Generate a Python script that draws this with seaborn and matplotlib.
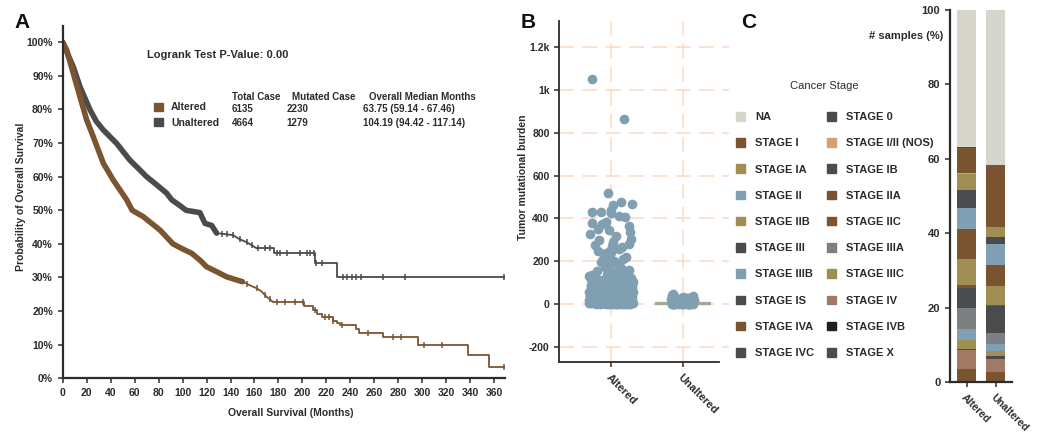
import matplotlib
matplotlib.use("Agg")
import matplotlib.pyplot as plt
import matplotlib.ticker as mticker
from matplotlib.patches import Patch
import numpy as np
import pandas as pd
import seaborn as sns

BROWN = "#7b5430"
GREY = "#4b4b4d"
DOT = "#809fb1"
TXT = "#2b2b2b"

# ---- A: Kaplan-Meier ----
# smooth early part (dense censoring), then the stepped tail
alt_smooth_t = [0, 3.3, 8.8, 14.4, 20, 25.5, 33.9, 42.2, 53.4, 58, 67.2, 81.2, 92,
                100, 107.6, 115, 120, 128, 136.8, 143, 150, 156, 161.8, 166, 170, 176]
alt_smooth_s = [1.0, .977, .908, .838, .769, .719, .64, .59, .531, .50, .481, .441, .40,
                .385, .372, .35, .332, .318, .302, .295, .2875, .277, .268, .258, .243, .226]
alt_step_t = [176, 201, 209, 212, 216, 225.5, 228.5, 231, 244.6, 247.4, 267.4, 296.6,
              338.5, 355.8, 369]
alt_step_s = [.226, .215, .203, .190, .181, .170, .164, .160, .147, .136, .122, .100,
              .068, .034, .034]
alt_cens_t = [153.5, 161.8, 168.7, 172.9, 178.5, 185.4, 193.7, 200.7, 210.4, 218.8,
              222, 225.7, 232.7, 254.9, 275.2, 282.2, 301.3, 316.1, 368]

unalt_smooth_t = [0, 3, 8.8, 14.4, 22.8, 28, 33.9, 45, 56.1, 63, 70, 78, 86.7, 91, 97,
                  103, 114.5, 118.7, 124.3, 128.4, 142.3, 147, 153.5, 161.8]
unalt_smooth_s = [1.0, .975, .927, .868, .799, .765, .739, .699, .649, .625, .60, .577,
                  .551, .531, .516, .50, .493, .461, .455, .432, .426, .415, .405, .387]
unalt_step_t = [161.8, 176, 210.5, 229, 369]
unalt_step_s = [.387, .372, .342, .302, .302]
unalt_cens_t = [132.6, 136.8, 142.3, 147.9, 153.5, 157.7, 163.2, 168.8, 172.9, 178.5,
                181.3, 186.8, 198, 203.5, 206.3, 210, 211.5, 216, 233.9, 237.5, 241.7,
                245, 248.6, 267.2, 285.3, 368]

# ---- B: tumor mutational burden ----
tmb_altered = [
    1050, 862, 520, 478, 466, 463, 440, 432, 428, 425, 412, 408, 385, 380, 372, 365,
    352, 345, 338, 325, 318, 305, 298, 290, 282, 278, 272, 265, 258, 250, 246, 242,
    238, 232, 225, 218, 212, 208, 202, 196, 190, 186, 180, 175, 170, 166, 162, 158,
    154, 150, 147, 144, 141, 138, 135, 132, 130, 128, 125, 122,
    120, 118, 116, 114, 112, 110, 108, 106, 104, 102, 100, 98, 96, 95, 94, 92, 90, 88,
    87, 86, 85, 84, 82, 80, 79, 78, 77, 76, 75, 74, 73, 72, 71, 70, 69, 68, 67, 66,
    65, 64, 63, 62, 61, 60, 59, 58, 57, 56, 55, 54, 53, 52, 51, 50, 49, 48, 47, 46,
    45, 44, 43, 42, 41, 40, 39, 38, 37, 36, 35, 34, 33, 32, 31, 30, 29, 28, 27, 26,
    25, 24, 23, 22, 21, 20, 19, 18, 17, 16, 15, 14, 13, 12, 11, 10, 9, 8, 7, 6,
    5, 4, 3, 2, 1, 0, 60, 55, 50, 45, 40, 35, 30, 25, 20, 15, 12, 10, 8, 6, 4, 2,
    90, 80, 70, 65, 58, 52, 48, 42, 38, 33, 28, 24, 18, 14, 9, 5, 3, 1, 0, 0,
    140, 136, 127, 119, 111, 105, 99, 93, 89, 83, 81, 76, 71, 68, 63, 57,
    53, 49, 44, 39, 34, 29, 26, 22, 19, 16, 13, 11, 7, 4, 2, 0, 126, 115, 103, 97,
    91, 86, 78, 72, 66, 61, 56, 51, 46, 41, 36, 31, 27, 23, 17, 12, 8, 6, 3, 1,
    145, 133, 121, 109, 101, 94, 88, 82, 74, 69, 62, 54, 47, 43, 37, 32, 26, 21, 15,
    10, 5, 2, 0, 0, 117, 107, 97, 85, 75, 64, 55, 45, 35, 25, 15, 5,
]
tmb_unaltered = [45, 40, 38, 35, 33, 30, 28, 27, 25, 24, 22, 20, 19, 18, 17, 16, 15,
                 14, 13, 12, 11, 10, 10, 9, 8, 8, 7, 7, 6, 6, 5, 5, 5, 4, 4, 4, 3, 3,
                 3, 2, 2, 2, 2, 1, 1, 1, 1, 0, 0, 0, 30, 26, 21, 18, 14, 11, 9, 7, 5,
                 3, 2, 1, 0, 0]
# box lines (Q1, median, Q3)
tmb_quart_altered = [0, 3, 14]
tmb_quart_unaltered = [0, 1, 3]

# ---- C: cancer stage composition (%) ----
groups = ["Altered", "Unaltered"]
stages = ["NA", "STAGE 0", "STAGE I", "STAGE I/II (NOS)", "STAGE IA", "STAGE IB",
          "STAGE II", "STAGE IIA", "STAGE IIB", "STAGE IIC", "STAGE III", "STAGE IIIA",
          "STAGE IIIB", "STAGE IIIC", "STAGE IS", "STAGE IV", "STAGE IVA", "STAGE IVB",
          "STAGE IVC", "STAGE X"]
stage_colors = ["#d6d6cc", "#4a4b4d", "#7a5430", "#d4a076", "#a08f52", "#4a4b4d",
                "#819fb2", "#7a5430", "#a08f52", "#7a5430", "#4a4b4d", "#7e7f82",
                "#819fb2", "#a08f52", "#4a4b4d", "#a07a64", "#7a5430", "#231f20",
                "#4a4b4d", "#4a4b4d"]
pct_altered = [36.7, 0.3, 6.7, 0.4, 4.3, 4.8, 5.6, 8.1, 7.0, 0.7, 5.4, 5.7, 2.9, 2.5,
               0.2, 5.1, 3.3, 0.1, 0.1, 0.1]
pct_unaltered = [41.5, 0.0, 16.7, 0.0, 2.7, 1.9, 5.7, 5.6, 5.1, 0.3, 7.25, 2.95, 1.9,
                 1.35, 0.8, 3.5, 2.65, 0.0, 0.05, 0.05]

sns.set_theme(style="ticks")
plt.rcParams["font.family"] = ["Liberation Sans", "DejaVu Sans"]
plt.rcParams["font.weight"] = "bold"
plt.rcParams["axes.labelweight"] = "bold"

W, H = 1039, 432
fig = plt.figure(figsize=(W / 100, H / 100), dpi=100)


def fx(px):
    return px / W


def fy(py):
    return 1 - py / H


def style_spines(ax, lw):
    sns.despine(ax=ax)
    for s in ("left", "bottom"):
        ax.spines[s].set_linewidth(lw)
        ax.spines[s].set_color(TXT)
    ax.tick_params(colors=TXT, width=1.1, length=3.5, labelsize=7.5)


# ---------------- A ----------------
axA = fig.add_axes([fx(62.7), fy(378.3), fx(505 - 62.7), (378.3 - 26) / H])


def surv_at(t, sm_t, sm_s, st_t, st_s):
    t = np.asarray(t, float)
    smooth = np.interp(t, sm_t, sm_s)
    idx = np.clip(np.searchsorted(st_t, t, side="right") - 1, 0, None)
    return np.where(t < st_t[0], smooth, np.asarray(st_s)[idx])


def km(ax, sm_t, sm_s, st_t, st_s, cens, color, thick_until):
    sm_t = np.asarray(sm_t)
    sm_s = np.asarray(sm_s)
    sns.lineplot(x=sm_t, y=sm_s, ax=ax, color=color, lw=1.3, estimator=None, sort=False)
    m = sm_t <= thick_until
    sns.lineplot(x=sm_t[m], y=sm_s[m], ax=ax, color=color, lw=4.0, estimator=None,
                 sort=False, solid_capstyle="round")
    sns.lineplot(x=st_t, y=st_s, ax=ax, color=color, lw=1.3, estimator=None,
                 sort=False, drawstyle="steps-post")
    ax.plot(cens, surv_at(cens, sm_t, sm_s, st_t, st_s), ls="none", marker="|",
            ms=5, mew=1.1, color=color)


km(axA, unalt_smooth_t, unalt_smooth_s, unalt_step_t, unalt_step_s, unalt_cens_t, GREY, 130)
km(axA, alt_smooth_t, alt_smooth_s, alt_step_t, alt_step_s, alt_cens_t, BROWN, 150)
axA.set_xlim(0, 369)
axA.set_ylim(0, 1.0485)
axA.set_xticks(np.arange(0, 361, 20))
axA.set_yticks(np.arange(0, 1.01, 0.1))
axA.yaxis.set_major_formatter(mticker.PercentFormatter(xmax=1, decimals=0))
style_spines(axA, 1.6)
axA.set_xlabel("Overall Survival (Months)", fontsize=7.5, color=TXT)
axA.set_ylabel("Probability of Overall Survival", fontsize=7.5, color=TXT)
axA.xaxis.set_label_coords(0.516, -0.083)
axA.yaxis.set_label_coords(-0.083, 0.515)

fig.text(fx(14), fy(22), "A", fontsize=15, fontweight="bold", va="center", color="#111")
fig.text(fx(146.7), fy(55), "Logrank Test P-Value: 0.00", fontsize=8, va="center", color=TXT)
hdr_y, r1_y, r2_y = 96.7, 109.3, 122.7
for x, s in zip([231.7, 291.7, 369.3], ["Total Case", "Mutated Case", "Overall Median Months"]):
    fig.text(fx(x), fy(hdr_y), s, fontsize=7, va="center", color=TXT)
rows = [["6135", "2230", "63.75 (59.14 - 67.46)"],
        ["4664", "1279", "104.19 (94.42 - 117.14)"]]
for y, row in zip([r1_y, r2_y], rows):
    for x, s in zip([231.7, 286.7, 362.7], row):
        fig.text(fx(x), fy(y), s, fontsize=7, va="center", color=TXT)
legA = fig.legend(handles=[Patch(color=BROWN, label="Altered"),
                           Patch(color=GREY, label="Unaltered")],
                  loc="upper left", bbox_to_anchor=(fx(154), fy(102.5)), frameon=False,
                  fontsize=7.5, handlelength=0.85, handleheight=0.9, handletextpad=0.8,
                  labelspacing=0.5, borderpad=0, borderaxespad=0)
for t in legA.get_texts():
    t.set_color(TXT)

# ---------------- B ----------------
axB = fig.add_axes([fx(559.3), fy(362.3), fx(729 - 559.3), (362.3 - 20.7) / H])
df_alt = pd.DataFrame({"group": "Altered", "tmb": tmb_altered})
df_un = pd.DataFrame({"group": "Unaltered", "tmb": tmb_unaltered})
np.random.seed(7)
for i, q in enumerate([tmb_quart_altered, tmb_quart_unaltered]):
    hw = 0.36 if i == 0 else 0.39
    axB.hlines(q, i - hw, i + hw, color="#a7a894", lw=1.6, zorder=2)
sns.stripplot(data=df_alt, x="group", y="tmb", order=groups, jitter=0.31, size=7,
              color=DOT, linewidth=0, ax=axB, zorder=3)
sns.stripplot(data=df_un, x="group", y="tmb", order=groups, jitter=0.16, size=7,
              color=DOT, linewidth=0, ax=axB, zorder=3)
axB.set_xlim(-0.725, 1.646)
axB.set_ylim(-272, 1323)
axB.set_yticks([-200, 0, 200, 400, 600, 800, 1000, 1200])
axB.set_yticklabels(["-200", "0", "200", "400", "600", "800", "1k", "1.2k"])
axB.grid(True, color="#fbdcc6", lw=1.2, linestyle=(0, (9, 5)))
axB.set_axisbelow(True)
style_spines(axB, 1.3)
axB.spines["bottom"].set_bounds(-0.725, 1.51)
axB.set_xlabel("")
axB.set_ylabel("Tumor mutational burden", fontsize=7.5, color=TXT)
axB.yaxis.set_label_coords(-0.184, 0.5425)
for lab in axB.get_xticklabels():
    lab.set_rotation(-45)
    lab.set_ha("left")
    lab.set_va("top")
    lab.set_rotation_mode("anchor")
    lab.set_fontsize(8)
fig.text(fx(520.7), fy(22), "B", fontsize=15, fontweight="bold", va="center", color="#111")

# ---------------- C ----------------
axC = fig.add_axes([fx(950), fy(382.3), fx(1011.7 - 950), (382.3 - 10) / H])
for gi, pct in enumerate([pct_altered, pct_unaltered]):
    bottom = 0.0
    for name, col, v in reversed(list(zip(stages, stage_colors, pct))):
        axC.bar(gi, v, bottom=bottom, width=0.66, color=col, lw=0)
        bottom += v
axC.set_xlim(-0.57, 1.55)
axC.set_ylim(0, 100)
axC.set_xticks([0, 1])
axC.set_xticklabels(groups)
axC.set_yticks([0, 20, 40, 60, 80, 100])
style_spines(axC, 1.6)
axC.tick_params(labelsize=8)
for lab in axC.get_xticklabels():
    lab.set_rotation(-45)
    lab.set_ha("left")
    lab.set_va("top")
    lab.set_rotation_mode("anchor")
    lab.set_fontsize(7.5)
fig.text(fx(943), fy(36), "# samples (%)", fontsize=8, ha="right", va="center", color=TXT)
fig.text(fx(740.7), fy(22), "C", fontsize=15, fontweight="bold", va="center", color="#111")
fig.text(fx(824), fy(86), "Cancer Stage", fontsize=8, fontweight="normal", ha="center",
         va="center", color=TXT)

handles = [Patch(color=c, label=s) for s, c in zip(stages, stage_colors)]
handles = handles[0::2] + handles[1::2]
legC = fig.legend(handles=handles, ncol=2, loc="upper left",
                  bbox_to_anchor=(fx(736), fy(112)), frameon=False, fontsize=8,
                  handlelength=0.8, handleheight=0.8, handletextpad=0.9,
                  labelspacing=1.45, columnspacing=1.2, borderpad=0, borderaxespad=0)
for t in legC.get_texts():
    t.set_color(TXT)

fig.savefig("out.png", dpi=100)
